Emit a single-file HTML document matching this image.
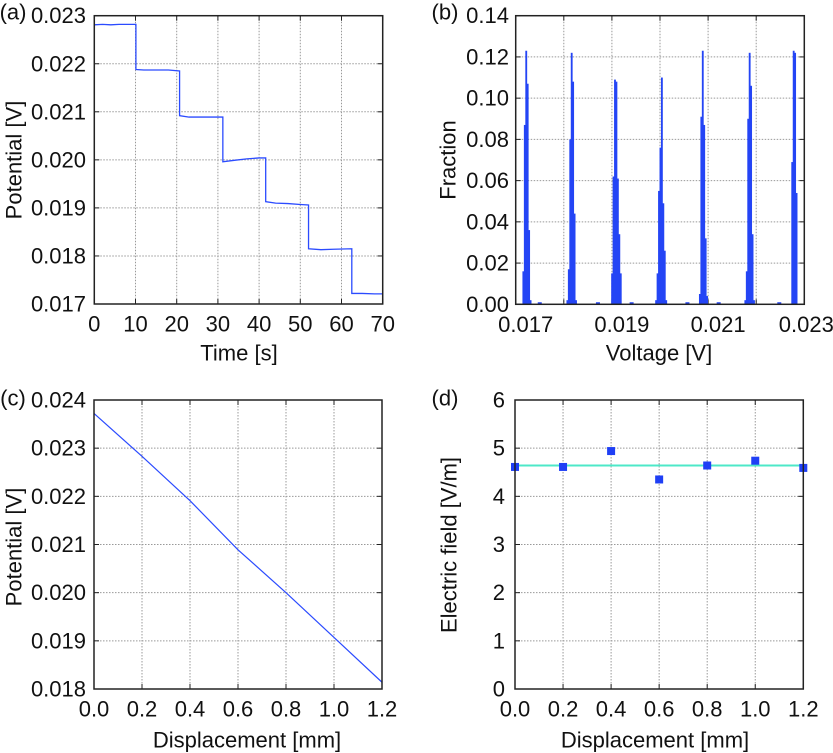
<!DOCTYPE html>
<html><head><meta charset="utf-8"><style>
html,body{margin:0;padding:0;background:#fff;}
svg{display:block;font-family:"Liberation Sans",Arial,sans-serif;}
.tk{font-size:22px;fill:#111;}
.tt{font-size:22px;fill:#111;}
.grid{stroke:#999;stroke-width:1;stroke-dasharray:1.5,1.5;}
.box{fill:none;stroke:#222;stroke-width:1.5;}
</style></head><body>
<svg id="fig" width="833" height="753" viewBox="0 0 833 753"></svg>
<script>
// ---- Panel (a) data ----
const aTimes = [0,2,4,6,8,10.1,10.1,12,15,18,20.7,20.7,23,26,29,31.2,31.2,34,37,40,41.6,41.6,44,47,50,52.0,52.0,55,58,62.5,62.5,65,68,70];
const aValues = [0.02281,0.02282,0.02281,0.02282,0.02282,0.02282,0.02188,0.02187,0.02187,0.02187,0.02185,0.02092,0.02089,0.02089,0.02089,0.02089,0.01996,0.01999,0.02002,0.02004,0.02004,0.01913,0.01910,0.01909,0.01907,0.01906,0.01815,0.01813,0.01814,0.01815,0.01722,0.01722,0.01721,0.01721];
const aXTicks = [0,10,20,30,40,50,60,70];
const aYTicks = [0.017,0.018,0.019,0.020,0.021,0.022,0.023];
// ---- Panel (b) data ----
const bPeakCenters = [0.01723,0.01816,0.01909,0.02002,0.02090,0.02186,0.02279];
const bPeakBins = [
 [0.016,0.087,0.123,0.107,0.036,0.002],
 [0.002,0.017,0.080,0.122,0.108,0.044,0.002],
 [0.015,0.062,0.109,0.108,0.061,0.034,0.015],
 [0.002,0.015,0.055,0.076,0.110,0.049,0.026,0.002],
 [0.005,0.091,0.123,0.087,0.032,0.004],
 [0.002,0.016,0.090,0.122,0.106,0.034,0.002],
 [0.069,0.123,0.122,0.054]
];
const bStrayV = [0.01750,0.01871,0.01941,0.02057,0.02122,0.02248];
const bStrayF = [0.001,0.001,0.001,0.001,0.001,0.001];
const bXTicks = [0.017,0.018,0.019,0.020,0.021,0.022,0.023];
const bXLabels = ["0.017","","0.019","","0.021","","0.023"];
const bYTicks = [0,0.02,0.04,0.06,0.08,0.10,0.12,0.14];
// ---- Panel (c) data ----
const cDisp = [0,0.2,0.4,0.6,0.8,1.0,1.2];
const cPot = [0.02372,0.02283,0.02191,0.02089,0.02000,0.01907,0.01814];
const cXTicks = [0,0.2,0.4,0.6,0.8,1.0,1.2];
const cYTicks = [0.018,0.019,0.020,0.021,0.022,0.023,0.024];
// ---- Panel (d) data ----
const dDisp = [0,0.2,0.4,0.6,0.8,1.0,1.2];
const dField = [4.61,4.61,4.94,4.35,4.64,4.74,4.59];
const dFit = [4.64];
const dXTicks = [0,0.2,0.4,0.6,0.8,1.0,1.2];
const dYTicks = [0,1,2,3,4,5,6];

const NS="http://www.w3.org/2000/svg";
const svg=document.getElementById('fig');
function mk(tag,attrs,parent){const e=document.createElementNS(NS,tag);for(const k in attrs)e.setAttribute(k,attrs[k]);(parent||svg).appendChild(e);return e;}
function txt(s,x,y,cls,anchor,parent,rot){const e=mk('text',{x:x,y:y,'class':cls,'text-anchor':anchor||'middle','dominant-baseline':'central'},parent);if(rot)e.setAttribute('transform','rotate(-90 '+x+' '+y+')');e.textContent=s;return e;}

function panel(o){
  const g=mk('g',{});
  
  
  const sx=v=>o.x0+(v-o.xmin)/(o.xmax-o.xmin)*(o.x1-o.x0);
  const sy=v=>o.y1-(v-o.ymin)/(o.ymax-o.ymin)*(o.y1-o.y0);
  const grid=mk('g',{},g);
  
  
  o.xticks.forEach((t,i)=>{
    const x=sx(t);
    if(i>0&&i<o.xticks.length-1){mk('line',{x1:x,x2:x,y1:o.y0,y2:o.y1,'class':'grid'},grid);}
    mk('line',{x1:x,x2:x,y1:o.y1,y2:o.y1-5,stroke:'#222','stroke-width':1},grid);
    mk('line',{x1:x,x2:x,y1:o.y0,y2:o.y0+5,stroke:'#222','stroke-width':1},grid);
    const lab=o.xlabels?o.xlabels[i]:o.xfmt(t);
    if(lab){let lx=x+(o.xlabOff?o.xlabOff(i):0);const e=txt(lab,lx,o.y1+20,'tk','middle',g);
      
      }
  });
  o.yticks.forEach((t,i)=>{
    const y=sy(t);
    if(i>0&&i<o.yticks.length-1){mk('line',{x1:o.x0,x2:o.x1,y1:y,y2:y,'class':'grid'},grid);}
    mk('line',{x1:o.x0,x2:o.x0+5,y1:y,y2:y,stroke:'#222','stroke-width':1},grid);
    mk('line',{x1:o.x1,x2:o.x1-5,y1:y,y2:y,stroke:'#222','stroke-width':1},grid);
    const e=txt(o.yfmt(t),o.ylabX,y,'tk','end',g);
    
    
  });
  o.draw(g,sx,sy);
  const b=mk('rect',{x:o.x0,y:o.y0,width:o.x1-o.x0,height:o.y1-o.y0,'class':'box'},g);
  
  
  const xt=txt(o.xtitle,o.xtX,o.xtY,'tt','middle',g);
  
  
  const yt=txt(o.ytitle,o.ytX,o.ytY,'tt','middle',g,true);
  
  
  const pl=txt(o.label,o.lX,o.lY,'tt','middle',g);
  
  
}

// (a)
panel({name:'panel-a-potential-vs-time',x0:94.3,x1:382.7,y0:15.7,y1:304,xmin:0,xmax:70,ymin:0.017,ymax:0.023,
 xticks:aXTicks,yticks:aYTicks,xfmt:t=>String(t),yfmt:t=>t.toFixed(3),ylabX:86,
 xtitle:'Time [s]',xtX:239,xtY:353,ytitle:'Potential [V]',ytX:14,ytY:160,label:'(a)',lX:13,lY:12,
 draw:(g,sx,sy)=>{const p=aTimes.map((t,i)=>sx(t)+','+sy(aValues[i])).join(' ');
  const l=mk('polyline',{points:p,fill:'none',stroke:'#2b4bff','stroke-width':1.3},g);
  
  }
});
// (b)
panel({name:'panel-b-histogram',x0:515.7,x1:804.3,y0:15.7,y1:304.3,xmin:0.017,xmax:0.023,ymin:0,ymax:0.14,
 xticks:bXTicks,yticks:bYTicks,xlabels:bXLabels,xlabOff:i=>i===6?2:10,yfmt:t=>t.toFixed(2),ylabX:509,
 xtitle:'Voltage [V]',xtX:659,xtY:353,ytitle:'Fraction',ytX:448,ytY:160,label:'(b)',lX:445,lY:12,
 draw:(g,sx,sy)=>{const bw=0.00003;
  bPeakCenters.forEach((c,k)=>{const bins=bPeakBins[k];const n=bins.length;
   bins.forEach((f,i)=>{const v=c+(i-(n-1)/2)*bw;const x=sx(v-bw/2);const w=sx(v+bw/2)-x+0.4;
    const r=mk('rect',{x:x,y:sy(f),width:w,height:sy(0)-sy(f),fill:'#2445f5'},g);
    
    });});
  bStrayV.forEach((v,i)=>{const x=sx(v)-2;
   const r=mk('rect',{x:x,y:sy(bStrayF[i]),width:4,height:sy(0)-sy(bStrayF[i]),fill:'#2445f5'},g);
   
   });}
});
// (c)
panel({name:'panel-c-potential-vs-displacement',x0:94,x1:382,y0:400,y1:689,xmin:0,xmax:1.2,ymin:0.018,ymax:0.024,
 xticks:cXTicks,yticks:cYTicks,xfmt:t=>t.toFixed(1),yfmt:t=>t.toFixed(3),ylabX:86,
 xtitle:'Displacement [mm]',xtX:247,xtY:740,ytitle:'Potential [V]',ytX:14,ytY:547,label:'(c)',lX:13,lY:398,
 draw:(g,sx,sy)=>{const p=cDisp.map((t,i)=>sx(t)+','+sy(cPot[i])).join(' ');
  const l=mk('polyline',{points:p,fill:'none',stroke:'#2b4bff','stroke-width':1.2},g);
  
  }
});
// (d)
panel({name:'panel-d-electric-field',x0:515,x1:803.3,y0:400,y1:689,xmin:0,xmax:1.2,ymin:0,ymax:6,
 xticks:dXTicks,yticks:dYTicks,xfmt:t=>t.toFixed(1),yfmt:t=>String(t),ylabX:505,
 xtitle:'Displacement [mm]',xtX:655,xtY:740,ytitle:'Electric field [V/m]',ytX:449,ytY:545,label:'(d)',lX:445,lY:398,
 draw:(g,sx,sy)=>{
  const f=mk('line',{x1:sx(0),x2:sx(1.2),y1:sy(dFit[0]),y2:sy(dFit[0]),stroke:'#4de8c8','stroke-width':2},g);
  
  
  dDisp.forEach((d,i)=>{const r=mk('rect',{x:sx(d)-4,y:sy(dField[i])-4,width:8,height:8,fill:'#1f3ff5'},g);
   
   });}
});
</script>
</body></html>
